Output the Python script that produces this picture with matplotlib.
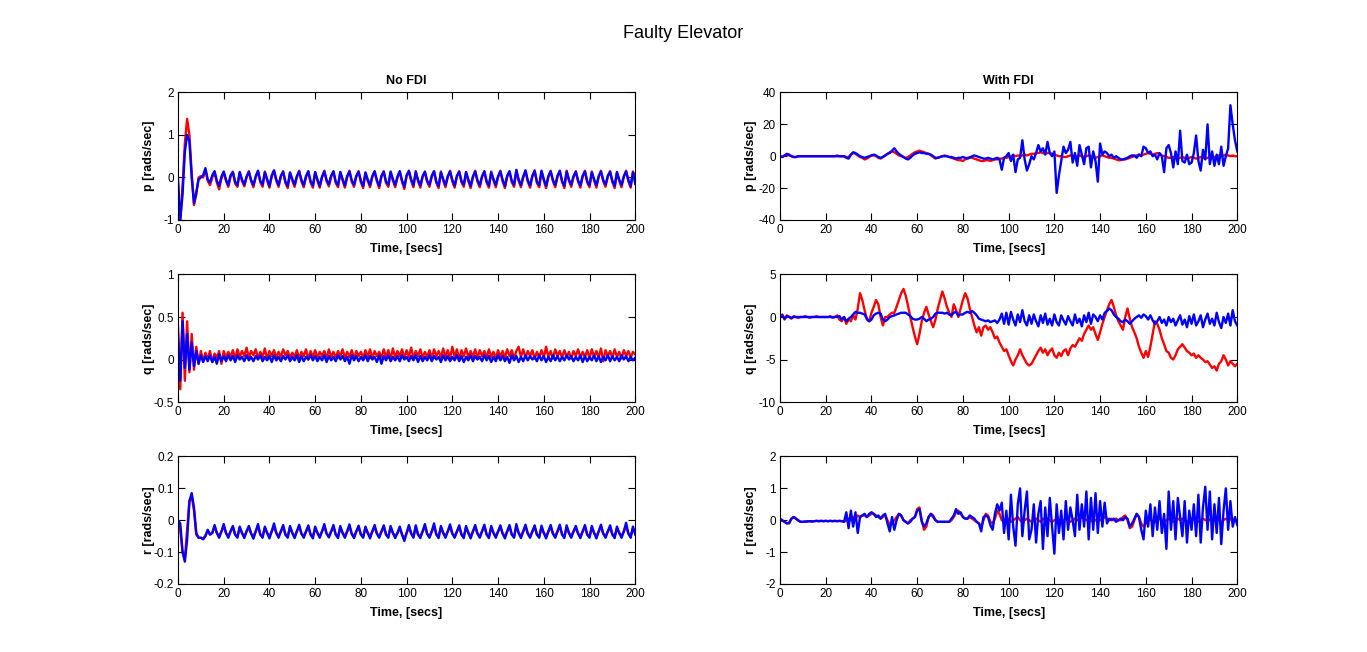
import numpy as np
import matplotlib.pyplot as plt

# MATLAB-like look
plt.rcParams['font.family'] = ['Liberation Sans', 'DejaVu Sans']
plt.rcParams['axes.unicode_minus'] = False

# time samples, one per second
T = np.arange(0, 201)

# ---- No FDI: p ----
P_NO_RED = [
    -0.7, -1.0, -0.2, 0.8, 1.38, 1.0, 0.1, -0.65, -0.4, 0.0,
    0.03, 0.0, 0.18, -0.08, -0.18, 0.0, 0.12, -0.12, -0.28, -0.02,
    0.12, -0.08, -0.22, 0.02, 0.14, -0.14, -0.22, 0.11, -0.08, -0.21,
    0.0, 0.15, -0.09, -0.23, 0.01, 0.14, -0.11, -0.22, 0.14, -0.07,
    -0.24, 0.02, 0.15, -0.08, -0.22, 0.02, 0.15, -0.13, -0.25, 0.1,
    -0.07, -0.22, 0.01, 0.16, -0.09, -0.23, 0.01, 0.13, -0.12, -0.24,
    0.11, -0.08, -0.24, 0.0, 0.16, -0.09, -0.21, 0.02, 0.13, -0.13,
    -0.23, 0.11, -0.07, -0.24, 0.01, 0.16, -0.1, -0.22, 0.02, 0.15,
    -0.11, -0.25, 0.1, -0.08, -0.23, 0.01, 0.13, -0.09, -0.25, 0.02,
    0.15, -0.13, -0.22, 0.12, -0.07, -0.23, 0.0, 0.13, -0.1, -0.27,
    0.03, 0.14, -0.08, -0.23, 0.15, -0.09, -0.24, 0.01, 0.12, -0.11,
    -0.22, 0.02, 0.13, -0.13, -0.25, 0.14, -0.07, -0.23, 0.01, 0.16,
    -0.09, -0.24, 0.02, 0.15, -0.11, -0.22, 0.11, -0.08, -0.25, 0.0,
    0.16, -0.1, -0.23, 0.01, 0.13, -0.12, -0.24, 0.14, -0.07, -0.23,
    0.01, 0.16, -0.09, -0.25, 0.02, 0.13, -0.11, -0.22, 0.16, -0.08,
    -0.23, 0.0, 0.15, -0.1, -0.24, 0.02, 0.17, -0.13, -0.23, 0.14,
    -0.07, -0.25, 0.01, 0.16, -0.09, -0.23, 0.02, 0.14, -0.11, -0.25,
    0.16, -0.08, -0.22, 0.01, 0.15, -0.1, -0.24, 0.02, 0.16, -0.12,
    -0.23, 0.14, -0.07, -0.24, 0.01, 0.16, -0.09, -0.22, 0.02, 0.15,
    -0.11, -0.25, 0.11, -0.08, -0.23, 0.01, 0.16, -0.09, -0.24, 0.14,
    0.0]
P_NO_BLUE = [
    0.0, -1.0, -0.4, 0.6, 1.0, 0.85, 0.0, -0.6, -0.35, -0.05,
    0.0, 0.05, 0.22, -0.05, -0.12, 0.05, 0.15, -0.08, -0.2, 0.02,
    0.14, -0.05, -0.18, 0.05, 0.12, -0.1, -0.18, 0.13, -0.05, -0.17,
    0.02, 0.13, -0.06, -0.18, 0.03, 0.16, -0.08, -0.17, 0.12, -0.04,
    -0.2, 0.05, 0.17, -0.05, -0.18, 0.04, 0.13, -0.1, -0.2, 0.12,
    -0.04, -0.17, 0.03, 0.14, -0.06, -0.18, 0.03, 0.15, -0.09, -0.19,
    0.13, -0.05, -0.2, 0.02, 0.14, -0.06, -0.16, 0.04, 0.15, -0.1,
    -0.18, 0.13, -0.04, -0.19, 0.03, 0.14, -0.07, -0.17, 0.04, 0.13,
    -0.08, -0.2, 0.12, -0.05, -0.18, 0.03, 0.15, -0.06, -0.2, 0.04,
    0.13, -0.1, -0.17, 0.14, -0.04, -0.18, 0.02, 0.15, -0.07, -0.22,
    0.05, 0.16, -0.05, -0.18, 0.13, -0.06, -0.19, 0.03, 0.14, -0.08,
    -0.17, 0.04, 0.15, -0.1, -0.2, 0.12, -0.04, -0.18, 0.03, 0.14,
    -0.06, -0.19, 0.04, 0.13, -0.08, -0.17, 0.13, -0.05, -0.2, 0.02,
    0.14, -0.07, -0.18, 0.03, 0.15, -0.09, -0.19, 0.12, -0.04, -0.18,
    0.03, 0.14, -0.06, -0.2, 0.04, 0.15, -0.08, -0.17, 0.18, -0.05,
    -0.18, 0.02, 0.17, -0.07, -0.19, 0.04, 0.15, -0.1, -0.18, 0.16,
    -0.04, -0.2, 0.03, 0.14, -0.06, -0.18, 0.04, 0.16, -0.08, -0.2,
    0.14, -0.05, -0.17, 0.03, 0.13, -0.07, -0.19, 0.04, 0.14, -0.09,
    -0.18, 0.12, -0.04, -0.19, 0.03, 0.14, -0.06, -0.17, 0.04, 0.13,
    -0.08, -0.2, 0.13, -0.05, -0.18, 0.03, 0.14, -0.06, -0.2, 0.12,
    -0.15]

# ---- No FDI: q ----
Q_NO_RED = [
    0.4, -0.35, 0.55, -0.25, 0.45, -0.15, 0.3, -0.12, 0.15, -0.05,
    0.1, -0.02, 0.08, 0.0, 0.1, -0.03, 0.07, 0.02, 0.1, -0.05,
    0.1, 0.02, 0.09, 0.03, 0.11, 0.01, 0.12, 0.03, 0.1, 0.04,
    0.14, 0.02, 0.1, 0.05, 0.12, 0.01, 0.09, 0.03, 0.13, 0.0,
    0.1, 0.04, 0.11, 0.02, 0.09, 0.03, 0.12, 0.05, 0.1, 0.02,
    0.08, 0.03, 0.11, 0.01, 0.09, 0.04, 0.12, 0.0, 0.1, 0.03,
    0.11, 0.02, 0.09, 0.04, 0.1, 0.01, 0.12, 0.03, 0.09, 0.02,
    0.1, 0.04, 0.12, 0.02, 0.09, 0.03, 0.11, 0.01, 0.1, 0.04,
    0.09, 0.02, 0.11, 0.03, 0.12, 0.01, 0.1, 0.04, 0.09, 0.02,
    0.12, 0.03, 0.11, 0.0, 0.13, 0.02, 0.1, 0.04, 0.12, 0.01,
    0.11, 0.03, 0.14, 0.01, 0.1, 0.04, 0.12, 0.02, 0.09, 0.03,
    0.11, 0.01, 0.12, 0.04, 0.1, 0.02, 0.13, 0.03, 0.11, 0.01,
    0.15, 0.03, 0.12, 0.0, 0.11, 0.04, 0.13, 0.02, 0.1, 0.03,
    0.12, 0.01, 0.11, 0.04, 0.1, 0.02, 0.12, 0.03, 0.09, 0.01,
    0.11, 0.03, 0.1, 0.02, 0.12, 0.04, 0.11, 0.01, 0.1, 0.15,
    0.03, 0.12, 0.02, 0.1, 0.04, 0.11, 0.01, 0.09, 0.03, 0.11,
    0.02, 0.15, 0.03, 0.1, 0.01, 0.12, 0.04, 0.1, 0.02, 0.11,
    0.03, 0.09, 0.01, 0.1, 0.04, 0.12, 0.02, 0.09, 0.03, 0.11,
    0.01, 0.12, 0.03, 0.1, 0.02, 0.13, -0.02, 0.11, 0.04, 0.1,
    0.02, 0.12, 0.03, 0.09, 0.01, 0.11, 0.04, 0.1, 0.02, 0.09,
    0.06]
Q_NO_BLUE = [
    0.3, -0.25, 0.45, -0.1, 0.3, -0.12, 0.2, -0.08, 0.1, -0.05,
    0.05, -0.03, 0.04, -0.02, 0.05, -0.03, 0.03, -0.05, 0.06, -0.02,
    0.04, -0.02, 0.05, -0.01, 0.04, -0.03, 0.05, 0.0, 0.03, -0.02,
    0.05, -0.01, 0.03, -0.02, 0.04, 0.0, 0.05, -0.02, 0.03, -0.01,
    0.04, -0.03, 0.05, -0.01, 0.03, -0.02, 0.04, 0.0, 0.05, -0.02,
    0.03, -0.01, 0.05, -0.03, 0.04, -0.02, 0.03, 0.0, 0.05, -0.01,
    0.04, -0.02, 0.03, -0.01, 0.05, -0.03, 0.04, -0.01, 0.03, -0.02,
    0.05, 0.0, 0.04, -0.02, 0.03, -0.05, 0.05, -0.01, 0.04, -0.02,
    0.03, -0.01, 0.05, -0.02, 0.04, 0.0, 0.03, -0.03, 0.05, -0.05,
    0.04, -0.01, 0.05, -0.02, 0.03, -0.01, 0.04, -0.02, 0.05, 0.0,
    0.03, -0.02, 0.04, -0.01, 0.05, -0.03, 0.04, -0.02, 0.03, -0.01,
    0.05, -0.02, 0.04, 0.0, 0.03, -0.03, 0.05, -0.01, 0.04, -0.02,
    0.03, -0.01, 0.05, -0.02, 0.04, -0.03, 0.03, -0.01, 0.05, -0.02,
    0.04, 0.0, 0.03, -0.02, 0.05, -0.01, 0.04, -0.03, 0.03, -0.02,
    0.05, -0.01, 0.04, -0.02, 0.03, -0.04, 0.05, -0.01, 0.04, -0.03,
    0.03, -0.02, 0.05, -0.01, 0.04, 0.0, 0.03, -0.02, 0.05, -0.01,
    0.04, -0.03, 0.03, -0.02, 0.05, -0.01, 0.04, -0.02, 0.03, -0.01,
    0.05, 0.0, 0.04, -0.02, 0.03, -0.01, 0.05, -0.03, 0.04, -0.02,
    0.03, -0.01, 0.05, -0.02, 0.04, -0.03, 0.03, -0.01, 0.05, -0.02,
    0.04, -0.01, 0.03, -0.02, 0.05, 0.0, 0.04, -0.02, 0.03, -0.01,
    0.02]

# ---- No FDI: r ----
R_NO_RED = [
    0.0, -0.03, -0.1, -0.12, -0.03, 0.06, 0.075, 0.03, -0.045, -0.055,
    -0.055, -0.058, -0.048, -0.032, -0.045, -0.04, -0.02, -0.04, -0.05, -0.035,
    -0.02, -0.04, -0.05, -0.035, -0.022, -0.045, -0.05, -0.025, -0.04, -0.05,
    -0.035, -0.022, -0.042, -0.05, -0.035, -0.02, -0.045, -0.05, -0.025, -0.04,
    -0.05, -0.035, -0.02, -0.04, -0.05, -0.035, -0.022, -0.045, -0.05, -0.024,
    -0.04, -0.05, -0.035, -0.02, -0.042, -0.05, -0.035, -0.022, -0.045, -0.05,
    -0.025, -0.04, -0.05, -0.035, -0.02, -0.042, -0.05, -0.035, -0.022, -0.045,
    -0.05, -0.024, -0.04, -0.05, -0.035, -0.02, -0.043, -0.05, -0.035, -0.022,
    -0.045, -0.05, -0.025, -0.04, -0.05, -0.035, -0.022, -0.042, -0.05, -0.035,
    -0.022, -0.045, -0.05, -0.024, -0.04, -0.05, -0.04, -0.025, -0.045, -0.058,
    -0.04, -0.022, -0.042, -0.05, -0.022, -0.045, -0.05, -0.035, -0.02, -0.043,
    -0.05, -0.035, -0.02, -0.045, -0.05, -0.024, -0.04, -0.05, -0.035, -0.02,
    -0.042, -0.05, -0.035, -0.022, -0.045, -0.05, -0.024, -0.04, -0.05, -0.035,
    -0.022, -0.042, -0.05, -0.035, -0.02, -0.045, -0.05, -0.024, -0.04, -0.05,
    -0.035, -0.022, -0.042, -0.05, -0.035, -0.022, -0.045, -0.05, -0.02, -0.04,
    -0.05, -0.035, -0.02, -0.042, -0.05, -0.035, -0.022, -0.045, -0.05, -0.024,
    -0.04, -0.05, -0.035, -0.022, -0.042, -0.05, -0.035, -0.02, -0.045, -0.05,
    -0.022, -0.04, -0.05, -0.035, -0.024, -0.042, -0.05, -0.035, -0.022, -0.045,
    -0.05, -0.024, -0.04, -0.05, -0.035, -0.02, -0.042, -0.05, -0.035, -0.022,
    -0.045, -0.05, -0.025, -0.04, -0.05, -0.035, -0.018, -0.042, -0.05, -0.025,
    -0.04]
R_NO_BLUE = [
    0.0, -0.01, -0.1, -0.13, -0.06, 0.06, 0.085, 0.04, -0.04, -0.055,
    -0.055, -0.06, -0.05, -0.03, -0.045, -0.04, -0.015, -0.04, -0.055, -0.035,
    -0.012, -0.04, -0.055, -0.035, -0.018, -0.045, -0.055, -0.02, -0.04, -0.056,
    -0.035, -0.018, -0.042, -0.058, -0.035, -0.012, -0.045, -0.055, -0.02, -0.04,
    -0.057, -0.035, -0.01, -0.04, -0.055, -0.035, -0.015, -0.045, -0.055, -0.018,
    -0.04, -0.056, -0.035, -0.014, -0.042, -0.055, -0.035, -0.016, -0.045, -0.057,
    -0.02, -0.04, -0.055, -0.035, -0.012, -0.042, -0.054, -0.035, -0.015, -0.045,
    -0.056, -0.018, -0.04, -0.055, -0.035, -0.013, -0.043, -0.056, -0.035, -0.017,
    -0.045, -0.055, -0.02, -0.04, -0.057, -0.035, -0.015, -0.042, -0.055, -0.035,
    -0.016, -0.045, -0.055, -0.018, -0.04, -0.056, -0.04, -0.02, -0.045, -0.065,
    -0.04, -0.015, -0.042, -0.055, -0.016, -0.045, -0.056, -0.035, -0.012, -0.043,
    -0.055, -0.035, -0.01, -0.045, -0.056, -0.018, -0.04, -0.055, -0.035, -0.013,
    -0.042, -0.055, -0.035, -0.016, -0.045, -0.056, -0.018, -0.04, -0.057, -0.035,
    -0.015, -0.042, -0.055, -0.035, -0.014, -0.045, -0.056, -0.018, -0.04, -0.055,
    -0.035, -0.016, -0.042, -0.057, -0.035, -0.015, -0.045, -0.055, -0.012, -0.04,
    -0.056, -0.035, -0.014, -0.042, -0.055, -0.035, -0.016, -0.045, -0.055, -0.017,
    -0.04, -0.057, -0.035, -0.015, -0.042, -0.055, -0.035, -0.014, -0.045, -0.056,
    -0.016, -0.04, -0.055, -0.035, -0.018, -0.042, -0.056, -0.035, -0.015, -0.045,
    -0.055, -0.018, -0.04, -0.057, -0.035, -0.014, -0.042, -0.055, -0.035, -0.016,
    -0.045, -0.056, -0.02, -0.04, -0.055, -0.035, -0.008, -0.042, -0.055, -0.02,
    -0.045]

# ---- With FDI: p ----
P_FDI_RED = [
    0, -0.5, 0.5, 1.0, 0.5, 0, -0.5, -0.5, 0, 0,
    0, 0, 0, 0, 0, 0, 0, 0, 0, 0,
    0, 0, 0, 0, 0, 0.5, 0, 0, 0, -0.5,
    -0.5, 1.0, 2.0, 1.5, 0.5, -0.5, -1.0, -2.0, -1.5, -0.5,
    0.5, 0.5, 0, -1.0, -1.5, -0.5, 0.5, 1.5, 2.5, 3.0,
    2.5, 1.5, 0.5, 0, -0.5, -1.0, -0.5, 0.5, 1.5, 2.5,
    3.0, 3.5, 3.0, 2.5, 2.0, 1.5, 0.5, -0.5, -1.5, -1.0,
    -0.5, 0, 0.5, 0, -0.5, -1.0, -1.5, -2.0, -2.5, -2.5,
    -3.0, -2.0, -1.0, -0.5, -1.0, -1.5, -2.0, -2.5, -3.0, -3.0,
    -2.5, -2.5, -3.0, -2.5, -2.0, -2.0, -1.5, -1.5, -1.0, -1.0,
    -0.5, 0, 0.5, 0, 0.5, 0, 0.5, 1.0, 0.5, 1.0,
    1.5, 1.5, 2.0, 2.0, 2.5, 2.0, 1.5, 2.0, 2.0, 1.5,
    1.0, 0.5, 0, 0, -0.5, -0.5, 0, 0.5, 0, -0.5,
    0, 0.5, 0, -0.5, 0, 0.5, 0, -0.5, -1.0, -0.5,
    0, 0.5, 0, -0.5, -1.0, -1.0, -1.5, -2.0, -2.5, -2.5,
    -2.0, -2.0, -1.5, -1.0, -0.5, 0, 0.5, 1.0, 0.5, 1.0,
    1.5, 2.0, 1.5, 1.0, 1.5, 2.0, 1.5, 0.5, 0, -0.5,
    -1.0, -1.0, -0.5, -1.0, -1.5, -1.0, -0.5, -1.0, -1.5, -1.0,
    -0.5, -1.0, -1.5, -1.0, -0.5, -1.0, -1.5, -1.0, -0.5, 0,
    -0.5, 0, 0.5, 0, 0.5, 1.0, 0.5, 0, 0.5, 0,
    0]
P_FDI_BLUE = [
    0, -0.5, 0.5, 1.5, 1.0, 0, -0.5, -0.5, 0, 0,
    0, 0, 0, 0, 0, 0, 0, 0, 0, 0,
    0, 0, 0, 0, 0, 0, 0, 0, 0, -1.0,
    -1.5, 1.0, 2.5, 2.0, 1.0, 0, -0.5, -1.0, -0.5, 0,
    0.5, 1.0, 0.5, -0.5, -1.0, -0.5, 0.5, 1.5, 2.0, 3.5,
    5.0, 3.0, 1.5, 0.5, -0.5, -1.5, -2.0, -1.0, 0.5, 1.5,
    2.0, 2.5, 2.0, 2.0, 1.5, 1.5, 1.0, 0, -1.0, -1.0,
    -0.5, 0, 0, 0, -0.5, -0.5, -1.0, -1.5, -1.0, -1.0,
    -0.5, -1.0, -1.5, -1.0, 0, 0.5, 0, -0.5, -1.0, -1.5,
    -1.5, -1.0, -1.5, -2.0, -1.5, -1.0, -2.0, -8.5, -1.0, 0,
    2.0, -3.0, 1.0, -10.0, -2.0, -1.0, 10.0, -2.0, -9.0, -5.0,
    0, -2.0, 2.0, 7.0, 3.0, 5.0, 1.0, 9.0, 2.0, 0,
    3.0, -23.0, -12.0, -3.0, 6.0, 2.0, 4.0, 9.0, -4.0, 2.0,
    -6.0, 7.0, 1.0, -5.0, 5.0, 6.0, -7.0, 3.0, -3.0, -16.0,
    8.0, 1.0, 3.0, 2.0, 0, 1.0, -1.0, 0, -1.0, -2.0,
    -2.0, -1.5, -1.0, 0, 0.5, 0.5, -1.0, 1.0, 0, 6.0,
    5.0, 2.0, 3.0, 0, 1.0, -2.0, 2.0, 0, -10.0, 5.0,
    7.0, 2.0, -7.0, 3.0, -5.0, 16.0, -3.0, -4.0, 1.0, -5.0,
    -4.0, 2.0, 13.0, -3.0, -9.0, 4.0, -2.0, 20.0, -5.0, 3.0,
    -6.0, 1.0, -5.0, 6.0, -6.0, 0, 5.0, 32.0, 20.0, 10.0,
    3.0]

# ---- With FDI: q ----
Q_FDI_RED = [
    0, 0.3, -0.3, 0.2, 0, -0.2, 0.1, 0, -0.1, 0,
    0, 0.1, 0, -0.1, 0, 0, 0.1, 0, 0, 0,
    0, 0, 0.1, -0.1, 0, 0.2, -0.3, -0.5, 0, -0.8,
    -0.3, -0.5, 0.2, -0.3, 1.0, 2.8, 2.0, 0.8, -0.3, -0.5,
    0.5, 1.2, 2.0, 1.5, 0, -1.0, 0, 0, 0.3, 0.5,
    0.5, 1.2, 2.0, 2.8, 3.3, 2.5, 1.3, 0, -1.2, -2.3,
    -3.2, -2.0, -0.5, 0.5, 1.2, 0.3, -0.5, -1.2, -0.3, 1.0,
    2.0, 3.0, 2.2, 1.2, 0.5, 0, 1.5, 0.8, 0, 1.0,
    2.0, 2.8, 2.2, 1.0, 0, -1.0, -1.8, -1.2, -2.2, -1.2,
    -1.0, -1.5, -1.2, -1.8, -2.5, -2.3, -3.0, -3.5, -4.0, -3.8,
    -4.5, -5.2, -5.7, -5.0, -4.5, -3.8, -4.5, -5.0, -5.5, -5.7,
    -5.5, -5.0, -4.5, -4.0, -3.6, -4.2, -3.8, -4.5, -4.0, -3.7,
    -4.5, -4.8, -4.2, -4.6, -4.0, -3.8, -4.5, -3.7, -3.3, -3.5,
    -3.0, -2.5, -2.8, -2.0, -1.5, -1.0, -1.5, -1.2, -2.0, -2.7,
    -1.8, -0.8, 0, 0.8, 1.5, 2.0, 1.2, 0.2, -0.5, -1.0,
    -1.5, 0, 1.0, -0.2, -1.2, -1.8, -2.5, -3.5, -4.2, -4.8,
    -4.0, -4.7, -3.5, -2.0, -0.5, -0.8, -1.5, -2.5, -3.2, -4.0,
    -4.2, -4.8, -5.0, -4.5, -3.8, -3.5, -3.2, -3.6, -4.0, -4.2,
    -4.5, -4.3, -4.8, -4.5, -4.8, -5.0, -5.3, -5.2, -5.6, -6.0,
    -5.8, -6.3, -5.5, -5.2, -4.5, -5.0, -5.7, -5.2, -5.5, -5.8,
    -5.5]
Q_FDI_BLUE = [
    0, 0.2, -0.2, 0.1, 0, -0.1, 0, 0, 0, 0,
    0, 0, 0, 0, 0, 0, 0, 0, 0, 0,
    0, 0, 0, 0, 0, 0, 0.1, -0.3, 0, -0.5,
    -0.2, 0, 0.3, 0.6, 0.5, 0.5, 0.4, 0.3, -0.2, -0.5,
    -0.3, 0.2, 0.4, 0.5, 0.4, -0.3, -0.5, -0.3, 0, 0.1,
    0.2, 0.3, 0.4, 0.5, 0.5, 0.5, 0.3, 0.1, -0.2, -0.3,
    -0.3, -0.2, 0, -0.2, -0.5, -0.3, -0.2, 0, 0.4, 0.5,
    0.5, 0.5, 0.4, 0.5, 0.3, 0.2, 0.5, 0.6, 0.2, 0.3,
    0.3, 0.5, 0.6, 0.5, 0.7, 0.5, 0.2, -0.2, -0.3, -0.4,
    -0.5, -0.4, -0.6, -0.5, -0.4, -0.7, -0.3, 0.4, -0.8, 0.5,
    -0.9, 0.6, -0.3, -1.0, 0.3, -0.6, 0.8, -0.5, -1.0, 0.2,
    -0.8, 0.3, -0.5, -1.1, 0.2, -0.7, 0.4, -0.9, -0.2, -1.0,
    0.3, -0.6, -1.0, 0.2, -0.4, -0.9, 0.1, -0.5, -1.0, 0.3,
    -0.7, -0.2, -1.1, 0.2, -0.6, 0.5, -0.8, 0.3, 0.0, -0.5,
    0.2, -0.3, 0.5, 0.7, 1.0, 0.8, 0.3, 0.0, -0.2, -0.5,
    -0.6, -0.3, -0.5, -0.8, -0.5, -0.2, 0.0, 0.2, -0.1, 0.3,
    0.1, -0.3, 0.2, -0.4, -0.8, -0.5, 0.0, -0.7, -0.3, -1.0,
    0.0, -0.6, -0.2, -1.0, -0.4, 0.2, -0.9, -0.3, -1.2, 0.1,
    -0.8, 0.3, -1.0, -0.5, 0.2, -1.2, -0.3, 0.4, -0.8, -0.2,
    -1.0, 0.5, -0.6, -1.3, 0.0, -0.7, 0.4, -1.0, 0.8, -0.5,
    -1.0]

# ---- With FDI: r ----
R_FDI_RED = [
    0.0, -0.02, -0.05, -0.1, -0.1, 0.05, 0.1, 0.05, -0.02, -0.05,
    -0.05, -0.05, -0.03, -0.03, -0.04, -0.03, -0.02, -0.03, -0.02, -0.03,
    -0.02, -0.03, -0.02, -0.03, -0.02, -0.03, -0.02, -0.03, -0.05, 0.0,
    0.05, 0.0, 0.1, 0.05, 0.15, 0.1, 0.15, 0.15, 0.1, 0.15,
    0.2, 0.2, 0.15, 0.1, 0.05, 0.1, 0.15, 0.0, -0.15, -0.1,
    0.0, 0.1, 0.2, 0.15, 0.0, -0.05, -0.1, 0.0, 0.05, 0.1,
    0.35, 0.4, 0.0, -0.3, -0.2, 0.1, 0.2, 0.15, 0.0, -0.05,
    -0.05, -0.05, -0.05, -0.05, -0.05, 0.0, 0.1, 0.25, 0.3, 0.2,
    0.1, 0.05, 0.05, 0.1, 0.05, 0.0, -0.05, -0.1, -0.2, 0.0,
    0.2, 0.15, -0.05, -0.1, 0.05, 0.3, 0.2, 0.0, -0.05, 0.0,
    0.05, -0.05, 0.0, 0.05, 0.1, 0.0, -0.05, 0.0, 0.05, 0.0,
    -0.05, 0.0, 0.05, 0.0, -0.05, 0.05, 0.0, 0.05, 0.0, -0.05,
    0.0, 0.05, 0.0, -0.05, 0.0, 0.05, 0.0, -0.05, 0.0, 0.05,
    0.0, 0.05, 0.1, 0.05, 0.0, 0.05, 0.0, -0.05, 0.0, 0.05,
    0.0, 0.05, 0.1, 0.05, 0.0, 0.05, 0.0, 0.05, 0.0, 0.0,
    0.1, 0.15, 0.0, -0.25, -0.2, 0.0, 0.2, 0.1, -0.1, -0.2,
    -0.1, 0.0, 0.05, -0.1, -0.05, 0.0, 0.05, 0.0, -0.05, 0.0,
    0.05, 0.0, -0.05, 0.0, 0.05, 0.0, 0.05, 0.0, -0.05, 0.0,
    0.0, 0.05, 0.0, -0.05, 0.0, 0.05, 0.0, 0.05, 0.0, -0.05,
    0.0, 0.05, 0.0, -0.05, 0.0, 0.05, 0.0, 0.05, 0.0, 0.0,
    0.0]
R_FDI_BLUE = [
    0.05, 0.0, -0.05, -0.1, -0.08, 0.05, 0.1, 0.05, 0.0, -0.05,
    -0.05, -0.04, -0.04, -0.03, -0.04, -0.03, -0.02, -0.03, -0.02, -0.03,
    -0.02, -0.03, -0.02, -0.03, -0.02, -0.03, -0.02, -0.03, -0.05, 0.25,
    -0.25, 0.3, -0.2, 0.25, -0.4, 0.1, 0.15, 0.2, 0.1, 0.2,
    0.25, 0.2, 0.1, 0.15, 0.05, 0.15, 0.2, -0.1, -0.35, 0.1,
    -0.3, 0.0, 0.2, 0.15, 0.0, -0.05, -0.1, -0.05, 0.05, 0.1,
    0.3, 0.35, -0.05, -0.2, -0.1, 0.1, 0.2, 0.1, 0.0, -0.05,
    -0.05, -0.05, -0.05, -0.05, -0.05, 0.05, 0.15, 0.35, 0.2, 0.25,
    0.1, 0.05, 0.05, 0.15, 0.1, 0.05, -0.05, -0.1, -0.35, 0.1,
    0.15, 0.1, -0.15, -0.3, 0.2, 0.5, 0.3, 0.55, -0.4, 0.3,
    -0.6, 0.8, -0.2, -0.8, 0.5, 1.0, -0.5, 0.3, 0.9, -0.6,
    -0.3, 0.5, -0.7, 0.2, 0.6, -0.9, 0.4, -0.5, 0.7, -0.2,
    -1.05, 0.5, -0.4, 0.3, -0.6, 0.6, -0.3, 0.4, 0.0, -0.5,
    0.8, -0.3, 0.5, -0.2, 0.9, -0.6, 0.7, -0.3, 0.85, -0.4,
    0.6, -0.2, 0.55, -0.1, 0.05, 0.0, 0.05, -0.05, 0.0, 0.05,
    0.0, 0.1, 0.05, -0.2, -0.1, 0.05, 0.2, 0.1, -0.3, -0.6,
    0.3, -0.2, 0.5, -0.5, 0.4, -0.3, 0.6, -0.4, 0.2, -0.9,
    0.9, -0.3, 0.6, -0.6, 0.7, 0.1, -0.5, 0.6, -0.7, 0.3,
    -0.3, 0.5, -0.5, 0.8, -0.7, 0.4, 1.05, -0.3, 0.9, -0.6,
    0.5, -0.4, 0.7, -0.75, 0.3, 1.0, -0.3, 0.6, -0.2, 0.1,
    -0.15]

XTICKS = [0, 20, 40, 60, 80, 100, 120, 140, 160, 180, 200]

panels = [
    # (col, row, red, blue, ylabel, yticks)
    (0, 0, P_NO_RED, P_NO_BLUE, 'p [rads/sec]', [-1, 0, 1, 2]),
    (0, 1, Q_NO_RED, Q_NO_BLUE, 'q [rads/sec]', [-0.5, 0, 0.5, 1]),
    (0, 2, R_NO_RED, R_NO_BLUE, 'r [rads/sec]', [-0.2, -0.1, 0, 0.1, 0.2]),
    (1, 0, P_FDI_RED, P_FDI_BLUE, 'p [rads/sec]', [-40, -20, 0, 20, 40]),
    (1, 1, Q_FDI_RED, Q_FDI_BLUE, 'q [rads/sec]', [-10, -5, 0, 5]),
    (1, 2, R_FDI_RED, R_FDI_BLUE, 'r [rads/sec]', [-2, -1, 0, 1, 2]),
]

col_left = [0.1302, 0.5706]
col_width = 0.3345
row_bottom = [0.6626, 0.3834, 0.1043]
row_height = 0.1956

fig = plt.figure(figsize=(13.67, 6.52), dpi=100)
fig.text(0.4996, 0.949, 'Faulty Elevator', ha='center', va='center', fontsize=13)

for col, row, red, blue, ylab, yt in panels:
    ax = fig.add_axes([col_left[col], row_bottom[row], col_width, row_height])
    ax.plot(T, red, color='#ff0000', lw=1.7)
    ax.plot(T, blue, color='#0000ff', lw=1.7)
    ax.set_xlim(0, 200)
    ax.set_ylim(yt[0], yt[-1])
    ax.set_xticks(XTICKS)
    ax.set_yticks(yt)
    ax.set_yticklabels(['%g' % v for v in yt])
    ax.tick_params(direction='in', top=True, right=True, length=5, width=0.8,
                   labelsize=8.5, pad=3)
    for s in ax.spines.values():
        s.set_linewidth(0.8)
    ax.set_xlabel('Time, [secs]', fontsize=9, fontweight='bold', labelpad=5)
    ax.set_ylabel(ylab, fontsize=9, fontweight='bold')
    ax.yaxis.set_label_coords(-0.05, 0.5)
    if row == 0:
        ax.set_title('No FDI' if col == 0 else 'With FDI', fontsize=9,
                     fontweight='bold', pad=6)

fig.savefig('out.png', dpi=100, facecolor='white')
